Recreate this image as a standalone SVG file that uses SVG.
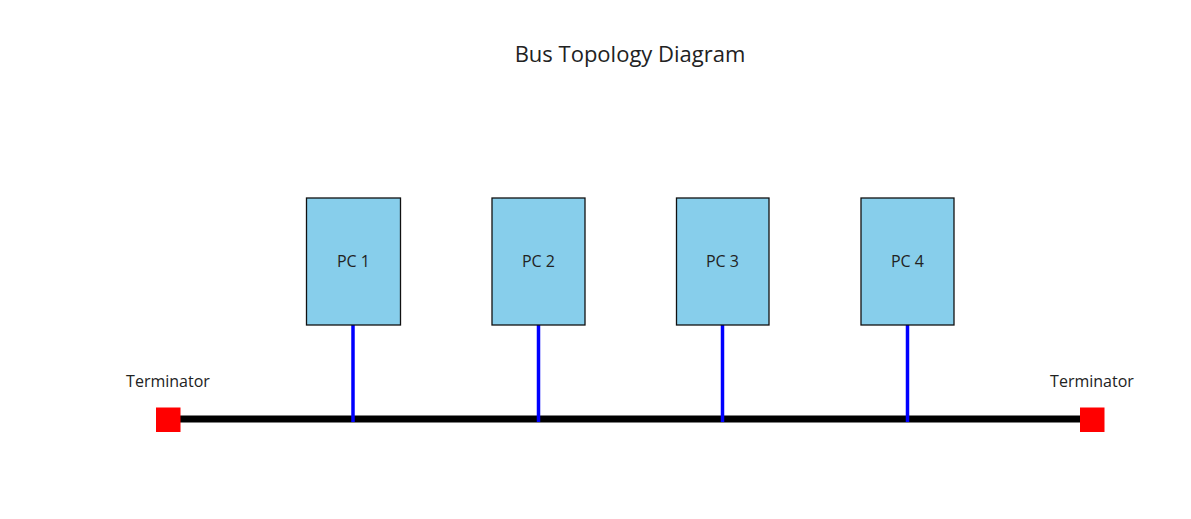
<svg xmlns="http://www.w3.org/2000/svg" width="1191" height="519" viewBox="0 0 1191 519">
<style>
text{font-family:"Open Sans","Liberation Sans",sans-serif;fill:#222;text-anchor:middle}
.pc{fill:#87ceeb;stroke:#111;stroke-width:1.3}
.lbl{font-size:16px}
.drop{stroke:#0000ff;stroke-width:3.5}
.term{fill:#ff0000}
</style>
<rect width="1191" height="519" fill="#fff"/>
<text x="630" y="62" style="font-size:22px">Bus Topology Diagram</text>
<g id="connectors">
<line x1="168" y1="419" x2="1092" y2="419" stroke="#000" stroke-width="7"/>
<line class="drop" x1="353" y1="325" x2="353" y2="422"/>
<line class="drop" x1="538.5" y1="325" x2="538.5" y2="422"/>
<line class="drop" x1="722.5" y1="325" x2="722.5" y2="422"/>
<line class="drop" x1="907.5" y1="325" x2="907.5" y2="422"/>
</g>
<g id="pc1"><rect class="pc" x="306.5" y="198" width="94" height="127"/><text class="lbl" x="353.5" y="267">PC 1</text></g>
<g id="pc2"><rect class="pc" x="492" y="198" width="93" height="127"/><text class="lbl" x="538.5" y="267">PC 2</text></g>
<g id="pc3"><rect class="pc" x="676.5" y="198" width="92.5" height="127"/><text class="lbl" x="722.5" y="267">PC 3</text></g>
<g id="pc4"><rect class="pc" x="861" y="198" width="93" height="127"/><text class="lbl" x="907.5" y="267">PC 4</text></g>
<g id="term1"><rect class="term" x="156" y="407.5" width="24.5" height="24.5"/><text x="168" y="387" style="font-size:16px">Terminator</text></g>
<g id="term2"><rect class="term" x="1080" y="407.5" width="24.5" height="24.5"/><text x="1092" y="387" style="font-size:16px">Terminator</text></g>
</svg>
